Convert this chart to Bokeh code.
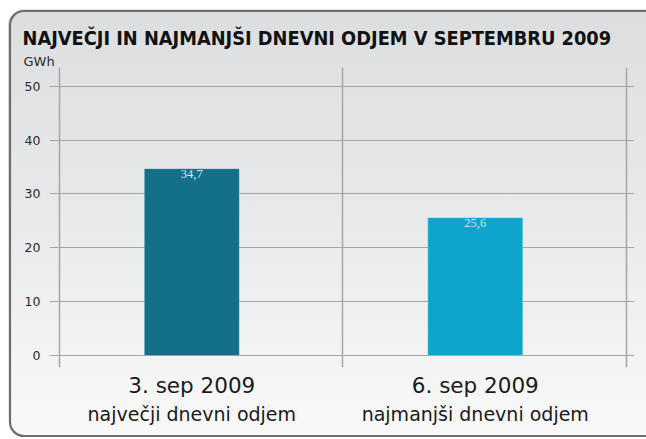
from bokeh.plotting import figure
from bokeh.models import Range1d, LinearAxis, FixedTicker, Grid, Title
from bokeh.embed import file_html
from bokeh.resources import INLINE

# ---- data ----
dates = ["3. sep 2009", "6. sep 2009"]
descriptions = ["največji dnevni odjem", "najmanjši dnevni odjem"]
values = [34.7, 25.6]
value_labels = ["34,7", "25,6"]
bar_colors = ["#146f88", "#0ea4cb"]
y_ticks = [0, 10, 20, 30, 40, 50]
x_pos = [0, 1]
title_text = "NAJVEČJI IN NAJMANJŠI DNEVNI ODJEM V SEPTEMBRU 2009"
unit_text = "GWh"

p = figure(width=646, height=439, output_backend="svg", toolbar_location=None,
           x_range=Range1d(-0.502, 1.5617), y_range=Range1d(-2.23, 53.49),
           x_axis_type=None, y_axis_type=None, title=None,
           min_border_left=49, min_border_right=12, min_border_top=67, min_border_bottom=72)
p.outline_line_color = None
p.background_fill_color = None
p.border_fill_color = None

# panel frame: open on the right (the panel continues past the window edge)
panel_outline = ("url(\"data:image/svg+xml;utf8,<svg xmlns='http://www.w3.org/2000/svg' "
                 "width='646' height='439'><path d='M 900 11 H 24 A 14 14 0 0 0 10 25 "
                 "V 422 A 14 14 0 0 0 24 436 H 900' fill='none' stroke='%236e6e6e' "
                 "stroke-width='2.2'/></svg>\")")
p.styles = {
    "background": panel_outline + " no-repeat, "
                  "linear-gradient(to bottom, #dcdddf 0%, #e7e8ea 45%, #f9f9f9 100%)",
    "clip-path": "inset(9px 0px 1px 8px round 16px 0px 0px 16px)",
}

# grids
p.add_layout(Grid(dimension=1, ticker=FixedTicker(ticks=y_ticks),
                  grid_line_color="#a5a5a5", grid_line_width=1.2))
p.add_layout(Grid(dimension=0, ticker=FixedTicker(ticks=[-0.4676, 0.532, 1.532]),
                  grid_line_color="#a5a5a5", grid_line_width=1.5))

yax = LinearAxis(ticker=FixedTicker(ticks=y_ticks), axis_line_color=None,
                 major_tick_line_color=None, minor_tick_line_color=None,
                 major_tick_in=0, major_tick_out=0,
                 major_label_standoff=9, major_label_text_font="DejaVu Sans",
                 major_label_text_font_size="12.5px", major_label_text_color="#2a2a2a")
p.add_layout(yax, "left")

xax1 = LinearAxis(ticker=FixedTicker(ticks=x_pos),
                  major_label_overrides={i: d for i, d in zip(x_pos, dates)},
                  axis_line_color=None, major_tick_line_color=None, minor_tick_line_color=None,
                  major_tick_in=0, major_tick_out=0, major_label_standoff=5,
                  major_label_text_font="DejaVu Sans", major_label_text_font_size="21.5px",
                  major_label_text_color="#1a1a1a")
p.add_layout(xax1, "below")
xax2 = LinearAxis(ticker=FixedTicker(ticks=x_pos),
                  major_label_overrides={i: d for i, d in zip(x_pos, descriptions)},
                  axis_line_color=None, major_tick_line_color=None, minor_tick_line_color=None,
                  major_tick_in=0, major_tick_out=0, major_label_standoff=2,
                  major_label_text_font="DejaVu Sans", major_label_text_font_size="19px",
                  major_label_text_color="#1a1a1a")
p.add_layout(xax2, "below")

p.add_layout(Title(text=unit_text, align="left", offset=-26, standoff=-2,
                   text_font="DejaVu Sans", text_font_style="normal",
                   text_font_size="13px", text_color="#2a2a2a"), "above")
p.add_layout(Title(text=title_text, align="left", offset=-27, standoff=6,
                   text_font="DejaVu Sans Condensed", text_font_style="bold",
                   text_font_size="19.8px", text_color="#111111"), "above")

p.vbar(x=x_pos, top=values, width=0.335, bottom=0, fill_color=bar_colors,
       line_color="#ffffff", line_alpha=0.25, line_width=1)
p.text(x=x_pos, y=values, text=value_labels, text_align="center", text_baseline="top",
       y_offset=1, text_color="#d4ecf3", text_font="DejaVu Sans", text_font_size="12.5px")

open("out.html", "w").write(file_html(p, INLINE))
